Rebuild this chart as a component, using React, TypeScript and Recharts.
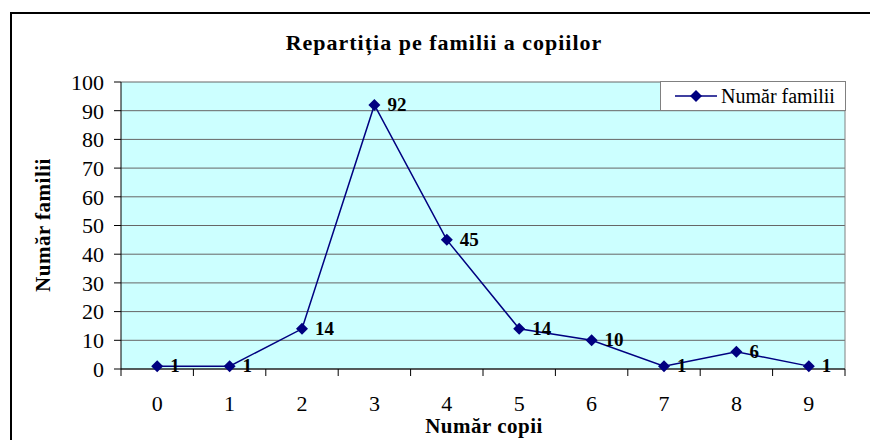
import { LineChart, Line, XAxis, YAxis, CartesianGrid, ReferenceLine, LabelList } from 'recharts';

const copii = [0, 1, 2, 3, 4, 5, 6, 7, 8, 9];
const familii = [1, 1, 14, 92, 45, 14, 10, 1, 6, 1];
const yTicks = [0, 10, 20, 30, 40, 50, 60, 70, 80, 90, 100];
const seriesName = 'Număr familii';

const data = copii.map((c, i) => ({ copii: c, familii: familii[i] }));
// category labels sit at integers, tick marks at the boundaries between them
const xTicks = [...copii.flatMap((c) => [c - 0.5, c]), copii[copii.length - 1] + 0.5];

const font = '"Liberation Serif", "Times New Roman", serif';
const navy = '#000080';

const Diamond = (props: any) => {
  const { cx, cy } = props;
  if (cx == null || cy == null) return null;
  return <polygon points={`${cx},${cy - 6} ${cx + 6},${cy} ${cx},${cy + 6} ${cx - 6},${cy}`} fill={navy} />;
};

const ValueLabel = (props: any) => {
  const { x, y, value } = props;
  return (
    <text x={x + 13} y={y + 6} fontFamily={font} fontWeight="bold" fontSize={19} fill="#000">
      {value}
    </text>
  );
};

const XTick = (props: any) => {
  const { x, y, payload } = props;
  const v = payload.value;
  if (!Number.isInteger(v)) {
    return <line x1={x} y1={y} x2={x} y2={y + 7} stroke="#000" />;
  }
  return (
    <text x={x} y={y + 42} textAnchor="middle" fontFamily={font} fontSize={22} fill="#000">
      {v}
    </text>
  );
};

export default function App() {
  return (
    <div style={{ position: 'absolute', left: 0, top: 0, width: 870, height: 440, background: '#fff', overflow: 'hidden' }}>
      <div style={{ position: 'absolute', left: 10, top: 12, width: 900, height: 500, borderTop: '2px solid #000', borderLeft: '2px solid #000' }} />
      <div style={{ position: 'absolute', left: 0, width: 888, top: 30, textAlign: 'center', fontFamily: font, fontWeight: 'bold', fontSize: 22, letterSpacing: 1 }}>
        Repartiția pe familii a copiilor
      </div>
      <div
        style={{
          position: 'absolute',
          left: 43,
          top: 225,
          transform: 'translate(-50%, -50%) rotate(-90deg)',
          whiteSpace: 'nowrap',
          fontFamily: font,
          fontWeight: 'bold',
          fontSize: 21,
          letterSpacing: 0.5,
        }}
      >
        Număr familii
      </div>
      <div style={{ position: 'absolute', left: 384, width: 200, top: 414, textAlign: 'center', fontFamily: font, fontWeight: 'bold', fontSize: 21, letterSpacing: 0.5 }}>
        Număr copii
      </div>
      <div style={{ position: 'absolute', left: 0, top: 0 }}>
        <LineChart width={870} height={440} data={data} margin={{ top: 82, right: 25, bottom: 0, left: 0 }}>
          <CartesianGrid vertical={false} stroke="#666" strokeWidth={1} fill="#CCFFFF" fillOpacity={1} />
          <ReferenceLine x={9.5} stroke="#808080" />
          <XAxis
            dataKey="copii"
            type="number"
            domain={[-0.5, 9.5]}
            ticks={xTicks}
            interval={0}
            height={71}
            tickSize={0}
            tickMargin={0}
            axisLine={{ stroke: '#000' }}
            tickLine={false}
            tick={<XTick />}
          />
          <YAxis
            domain={[0, 100]}
            ticks={yTicks}
            width={121}
            tickSize={7}
            tickMargin={10}
            interval={0}
            axisLine={{ stroke: '#000' }}
            tickLine={{ stroke: '#000' }}
            tick={{ fill: '#000', fontFamily: font, fontSize: 22 }}
          />
          <Line
            dataKey="familii"
            name={seriesName}
            stroke={navy}
            strokeWidth={1.5}
            dot={<Diamond />}
            activeDot={false}
            isAnimationActive={false}
          >
            <LabelList dataKey="familii" content={<ValueLabel />} />
          </Line>
        </LineChart>
      </div>
      <div
        style={{
          position: 'absolute',
          left: 660,
          top: 81,
          width: 186,
          height: 30,
          border: '1px solid #808080',
          background: '#fff',
          display: 'flex',
          alignItems: 'center',
          fontFamily: font,
          fontSize: 20,
          boxSizing: 'border-box',
        }}
      >
        <svg width={60} height={20}>
          <line x1={14} y1={10} x2={56} y2={10} stroke={navy} strokeWidth={1.5} />
          <polygon points="35,4 41,10 35,16 29,10" fill={navy} />
        </svg>
        <span>{seriesName}</span>
      </div>
    </div>
  );
}
